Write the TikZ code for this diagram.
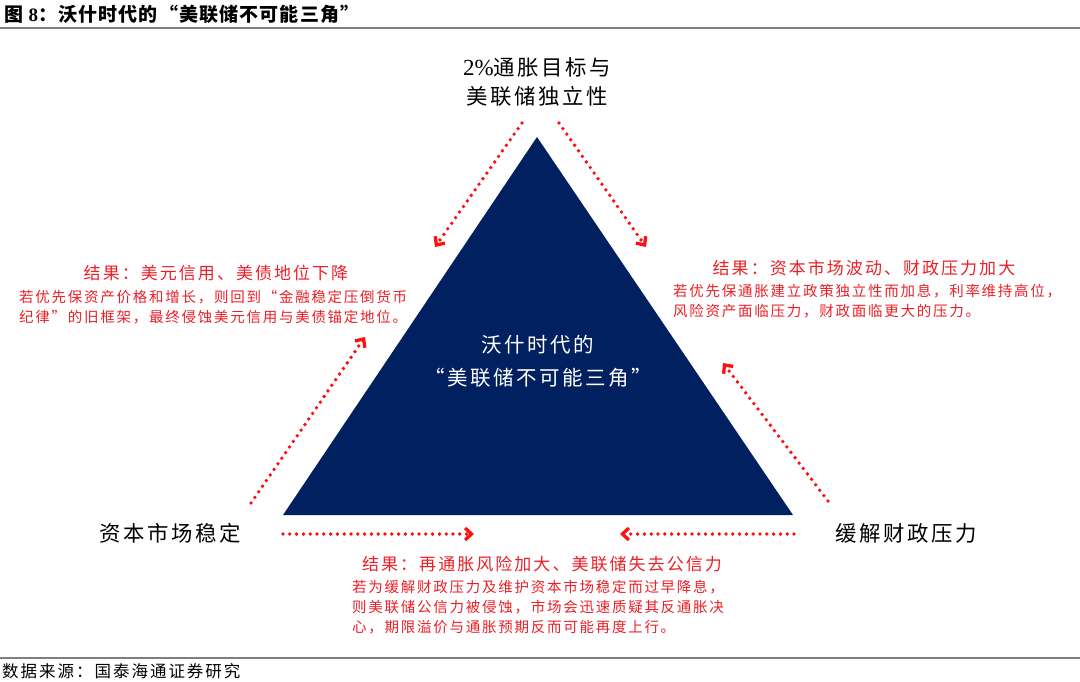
\documentclass[tikz,border=0pt]{standalone}
\usepackage{fontspec}
\setmainfont{Liberation Serif}
\newfontfamily\cjk[LetterSpace=12]{Noto Sans CJK SC}
\newfontfamily\cjkt[LetterSpace=6]{Noto Sans CJK SC}
\usetikzlibrary{arrows.meta}
\definecolor{navy}{HTML}{002060}
\definecolor{rred}{HTML}{FF1010}
\definecolor{tred}{HTML}{EA1F27}
\definecolor{rulegray}{HTML}{7F7F7F}
\begin{document}
\begin{tikzpicture}[x=1pt,y=-1pt,
  dotarrow/.style={draw=rred, line width=3.8pt, line cap=round, dash pattern=on 0pt off 6.8pt,
    -{Straight Barb[length=6.5pt,width=12pt,line width=3.3pt]}},
  blk/.style={inner sep=0pt, font=\cjk\fontsize{21.4}{24}\selectfont, text=black},
  ctr/.style={inner sep=0pt, font=\cjk\fontsize{20.5}{24}\selectfont, text=white},
  rhead/.style={inner sep=0pt, font=\cjk\fontsize{17}{20}\selectfont, text=tred},
  rbody/.style={inner sep=0pt, anchor=west, font=\cjk\fontsize{14.5}{18}\selectfont, text=tred},
  rulel/.style={draw=rulegray, line width=1.5pt}
]
\useasboundingbox (0,0) rectangle (1080,681);
% title and rules
\node[inner sep=0pt, anchor=west, font=\cjkt\bfseries\fontsize{19}{22}\selectfont] (title) at (4,14)
  {图 {\rmfamily\bfseries 8}：沃什时代的“美联储不可能三角”};
\draw[rulel] (0,28) -- (1080,28);
\draw[rulel] (0,658) -- (1080,658);
\node[inner sep=0pt, anchor=west, font=\cjk\fontsize{16.5}{20}\selectfont] (src) at (2,671) {数据来源：国泰海通证券研究};
% triangle
\coordinate (A) at (537,137);
\coordinate (B) at (283,515);
\coordinate (C) at (793,515);
\fill[navy] (A) -- (B) -- (C) -- cycle;
\node[ctr] (c1) at (538,345) {沃什时代的};
\node[ctr] (c2) at (538,378) {“美联储不可能三角”};
% corner labels
\node[blk] (t1) at (537,67) {{\rmfamily\fontsize{23}{24}\selectfont 2\%}通胀目标与};
\node[blk] (t2) at (537,96) {美联储独立性};
\node[blk] (bl) at (170,533) {资本市场稳定};
\node[blk] (br) at (906,533) {缓解财政压力};
% arrows
\coordinate (a1s) at (522,123); \coordinate (a1e) at (435,247);
\coordinate (a2s) at (559,123); \coordinate (a2e) at (646,247);
\coordinate (a3s) at (251,503); \coordinate (a3e) at (365,337);
\coordinate (a4s) at (828,501); \coordinate (a4e) at (723,363);
\coordinate (a5s) at (283,534); \coordinate (a5e) at (474,534);
\coordinate (a6s) at (794,534); \coordinate (a6e) at (620,534);
\foreach \s/\e in {a1s/a1e,a2s/a2e,a3s/a3e,a4s/a4e,a5s/a5e,a6s/a6e}
  \draw[dotarrow] (\s) -- (\e);
% left result
\node[rhead] (lh) at (216,273) {结果：美元信用、美债地位下降};
\node[rbody] (l1) at (19,297) {若优先保资产价格和增长，则回到“金融稳定压倒货币};
\node[rbody] (l2) at (19,317) {纪律”的旧框架，最终侵蚀美元信用与美债锚定地位。};
% right result
\node[rhead] (rh) at (864,268) {结果：资本市场波动、财政压力加大};
\node[rbody] (r1) at (673,291) {若优先保通胀建立政策独立性而加息，利率维持高位，};
\node[rbody] (r2) at (673,311) {风险资产面临压力，财政面临更大的压力。};
% bottom result
\node[rhead] (bh) at (542,564) {结果：再通胀风险加大、美联储失去公信力};
\node[rbody] (b1) at (352,587) {若为缓解财政压力及维护资本市场稳定而过早降息，};
\node[rbody] (b2) at (352,607) {则美联储公信力被侵蚀，市场会迅速质疑其反通胀决};
\node[rbody] (b3) at (352,627) {心，期限溢价与通胀预期反而可能再度上行。};
\end{tikzpicture}
\end{document}
